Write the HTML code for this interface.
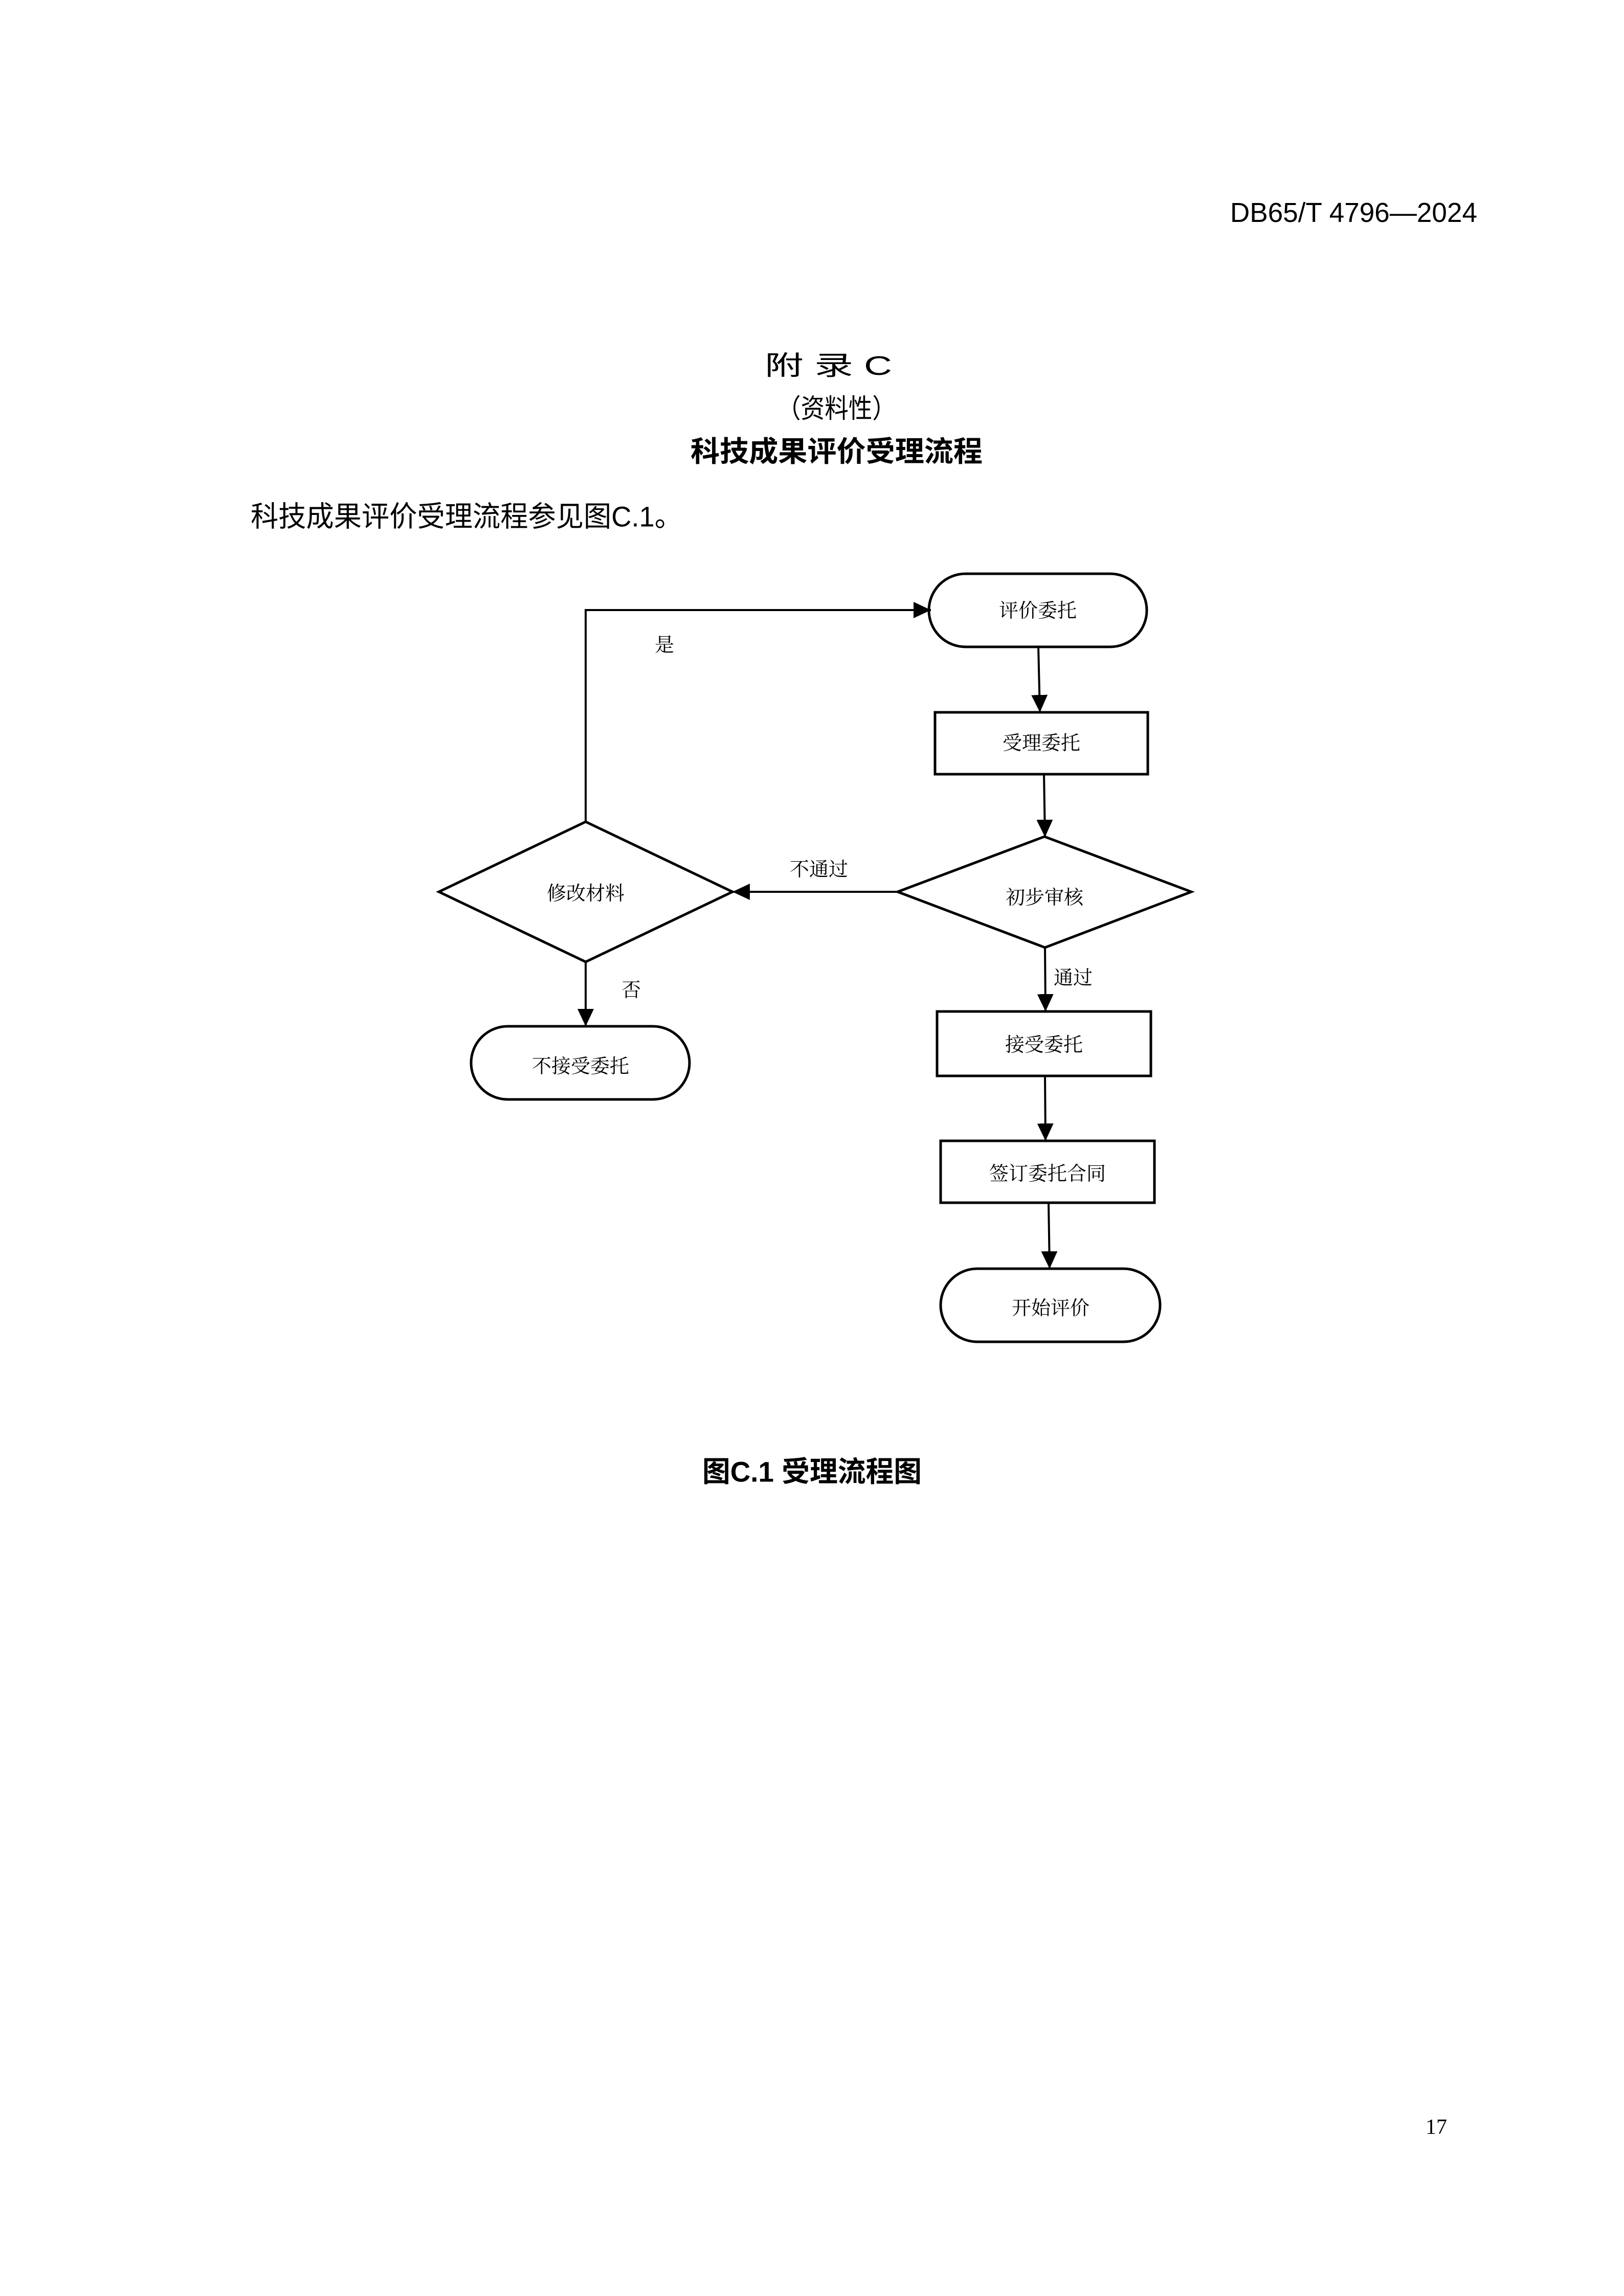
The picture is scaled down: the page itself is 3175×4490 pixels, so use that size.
<!DOCTYPE html>
<html><head><meta charset="utf-8"><style>
html,body{margin:0;padding:0;background:#fff}
svg{display:block}
.h{font-family:"Liberation Sans","Noto Sans CJK SC",sans-serif}
.s{font-family:"Liberation Serif","Noto Serif CJK SC",serif}
</style></head><body>
<svg width="3175" height="4490" viewBox="0 0 3175 4490" xmlns="http://www.w3.org/2000/svg">
<rect width="3175" height="4490" fill="#fff"/>
<defs>
<marker id="a" markerWidth="34" markerHeight="32" refX="34" refY="16" orient="auto" markerUnits="userSpaceOnUse" viewBox="0 0 34 32">
<path d="M0,0 L34,16 L0,32 z" fill="#000"/></marker>
</defs>
<g class="h" fill="#000" dominant-baseline="central">
<text x="2405" y="416" font-size="54" textLength="483" lengthAdjust="spacingAndGlyphs">DB65/T 4796—2024</text>
<text x="1495" y="716" font-size="52" textLength="249" lengthAdjust="spacingAndGlyphs">附 录 C</text>
<text x="1519" y="800" font-size="52" textLength="233" lengthAdjust="spacingAndGlyphs">（资料性）</text>
<text x="1350" y="883" font-size="56" font-weight="bold" textLength="571" lengthAdjust="spacingAndGlyphs">科技成果评价受理流程</text>
<text x="490" y="1010" font-size="56" textLength="844" lengthAdjust="spacingAndGlyphs">科技成果评价受理流程参见图C.1。</text>
<text x="1373" y="2878" font-size="56" font-weight="bold" textLength="429" lengthAdjust="spacingAndGlyphs">图C.1 受理流程图</text>
</g>
<text class="s" x="2808" y="4160" font-size="42" text-anchor="middle" dominant-baseline="central">17</text>
<g transform="translate(-6,-4)">
<g fill="none" stroke="#000" stroke-width="5">
<rect x="1822" y="1126" width="426" height="143" rx="71.5"/>
<rect x="1834" y="1397" width="416" height="121"/>
<polygon points="1761,1748 2048,1640 2335,1748 2049,1857"/>
<polygon points="864,1748 1151,1611 1438,1748 1151,1885"/>
<rect x="927" y="2011" width="427" height="143" rx="71.5"/>
<rect x="1838" y="1982" width="418" height="126"/>
<rect x="1845" y="2235" width="418" height="121"/>
<rect x="1845" y="2485" width="429" height="143" rx="71.5"/>
</g>
<g fill="none" stroke="#000" stroke-width="4" marker-end="url(#a)">
<path d="M1151,1611 V1197 H1826"/>
<path d="M2036,1269 L2039,1397"/>
<path d="M2047,1518 L2049,1641"/>
<path d="M2049,1857 L2050,1982"/>
<path d="M2049,2108 L2050,2235"/>
<path d="M2056,2356 L2058,2485"/>
<path d="M1151,1885 L1151,2011"/>
<path d="M1761,1748 L1438,1748"/>
</g>
<g class="s" fill="#000" font-size="38" text-anchor="middle" dominant-baseline="central">
<text x="2035" y="1199">评价委托</text>
<text x="2042" y="1458">受理委托</text>
<text x="2048" y="1760">初步审核</text>
<text x="1151" y="1752">修改材料</text>
<text x="1141" y="2090">不接受委托</text>
<text x="2047" y="2048">接受委托</text>
<text x="2054" y="2300">签订委托合同</text>
<text x="2060" y="2563">开始评价</text>
<text x="1305" y="1266">是</text>
<text x="1607" y="1705">不通过</text>
<text x="2104" y="1917">通过</text>
<text x="1240" y="1941">否</text>
</g>
</g>
</svg>
</body></html>
